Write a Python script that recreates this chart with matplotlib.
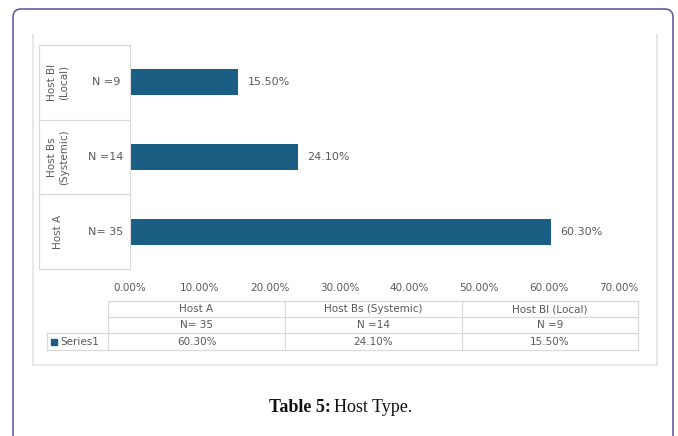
import matplotlib.pyplot as plt
from matplotlib.patches import FancyBboxPatch, Rectangle
from matplotlib.lines import Line2D
from matplotlib.ticker import FuncFormatter

# data
hosts = ["Host A", "Host Bs (Systemic)", "Host Bl (Local)"]
axis_names = ["Host A", "Host Bs\n(Systemic)", "Host Bl\n(Local)"]
n_labels = ["N= 35", "N =14", "N =9"]
values = [60.3, 24.1, 15.5]
xticks = [0, 10, 20, 30, 40, 50, 60, 70]
series_name = "Series1"

bar_col = "#1a5e84"
txt_col = "#595959"
grid_col = "#d9d9d9"

W, H = 678, 436
fig = plt.figure(figsize=(W / 100, H / 100), dpi=100)


def fx(x):
    return x / W


def fy(y):
    return 1 - y / H


# purple outer frame (bottom runs off the page)
fig.patches.append(FancyBboxPatch((fx(13), fy(480)), fx(673) - fx(13), fy(9) - fy(480),
                                  boxstyle="round,pad=0,rounding_size=0.012",
                                  mutation_aspect=W / H,
                                  transform=fig.transFigure, fill=False,
                                  edgecolor="#5b4f9c", linewidth=1.1))

# inner picture frame, sides and bottom only
for xs, ys in [([33, 33], [35, 365]), ([657, 657], [35, 365]), ([33, 657], [365, 365])]:
    fig.add_artist(Line2D([fx(v) for v in xs], [fy(v) for v in ys],
                          transform=fig.transFigure, color="#e6e6e6", linewidth=1.3))

# bar chart
x0, x1 = 130, 619
y0, y1 = 45, 269
ax = fig.add_axes([fx(x0), fy(y1), fx(x1) - fx(x0), fy(y0) - fy(y1)])
ypos = list(range(len(hosts)))
ax.barh(ypos, values, height=0.35, color=bar_col)
for y, v in zip(ypos, values):
    ax.text(v + 1.3, y, f"{v:.2f}%", va="center", ha="left", fontsize=8, color=txt_col)
ax.set_xlim(0, 70)
ax.set_ylim(-0.5, 2.5)
ax.set_xticks(xticks)
ax.xaxis.set_major_formatter(FuncFormatter(lambda v, p: f"{v:.2f}%"))
ax.tick_params(axis="x", length=0, pad=10, labelsize=7.5, labelcolor=txt_col)
ax.set_yticks([])
for s in ["top", "right", "bottom"]:
    ax.spines[s].set_visible(False)
ax.spines["left"].set_color(grid_col)
ax.patch.set_alpha(0)

# category label box on the left
box_l = 39
step = (y1 - y0) / len(hosts)
for i in range(len(hosts) + 1):
    yy = y0 + i * step
    fig.add_artist(Line2D([fx(box_l), fx(x0)], [fy(yy), fy(yy)],
                          transform=fig.transFigure, color=grid_col, linewidth=0.9))
fig.add_artist(Line2D([fx(box_l), fx(box_l)], [fy(y0), fy(y1)],
                      transform=fig.transFigure, color=grid_col, linewidth=0.9))
for i, (name, nl) in enumerate(zip(axis_names, n_labels)):
    yc = y1 - (i + 0.5) * step
    fig.text(fx(58), fy(yc), name, rotation=90, ha="center", va="center",
             fontsize=7.5, color=txt_col, linespacing=1.2)
    fig.text(fx(106), fy(yc), nl, ha="center", va="center", fontsize=8, color=txt_col)

# data table under the chart
col_edges = [108, 285, 462, 638]
row_edges = [301, 317, 333, 350]
for i, yy in enumerate(row_edges):
    xl = 47 if i >= 2 else col_edges[0]
    fig.add_artist(Line2D([fx(xl), fx(col_edges[-1])], [fy(yy), fy(yy)],
                          transform=fig.transFigure, color=grid_col, linewidth=0.9))
for xx in col_edges:
    fig.add_artist(Line2D([fx(xx), fx(xx)], [fy(row_edges[0]), fy(row_edges[-1])],
                          transform=fig.transFigure, color=grid_col, linewidth=0.9))
fig.add_artist(Line2D([fx(47), fx(47)], [fy(row_edges[2]), fy(row_edges[3])],
                      transform=fig.transFigure, color=grid_col, linewidth=0.9))
rows = [hosts, n_labels, [f"{v:.2f}%" for v in values]]
for r, cells in enumerate(rows):
    yc = (row_edges[r] + row_edges[r + 1]) / 2
    for c, t in enumerate(cells):
        xc = (col_edges[c] + col_edges[c + 1]) / 2
        fig.text(fx(xc), fy(yc), t, ha="center", va="center", fontsize=7.5, color=txt_col)
yc = (row_edges[2] + row_edges[3]) / 2
fig.patches.append(Rectangle((fx(51), fy(yc + 3)), fx(6), 6 / H, color=bar_col,
                             transform=fig.transFigure))
fig.text(fx(60), fy(yc), series_name, ha="left", va="center", fontsize=7.5, color=txt_col)

# caption
fig.text(fx(331), fy(407), "Table 5:", ha="right", va="center", fontsize=13,
         family="Liberation Serif", weight="bold", color="#111111")
fig.text(fx(334), fy(407), "Host Type.", ha="left", va="center", fontsize=13,
         family="Liberation Serif", color="#111111")

fig.savefig("out.png", dpi=100)
